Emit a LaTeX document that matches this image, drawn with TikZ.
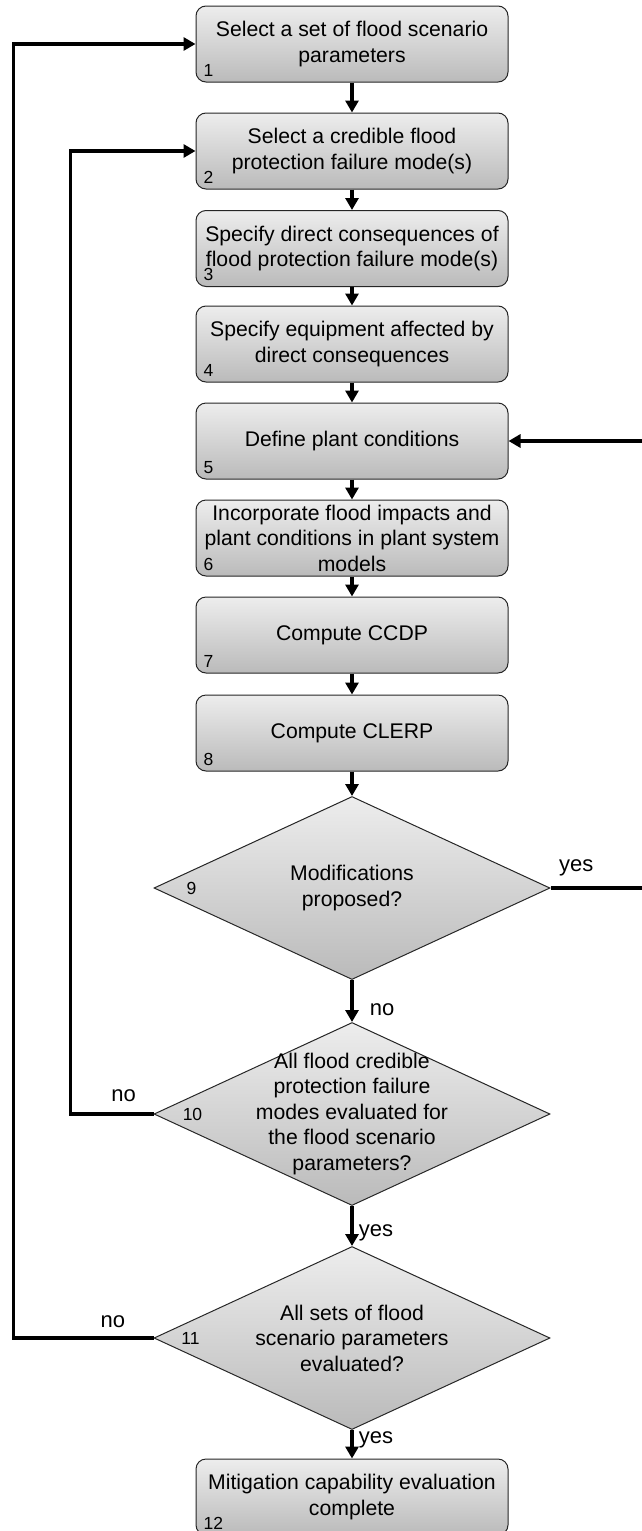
\documentclass[tikz,border=0pt]{standalone}
\usepackage{fontspec}
\setmainfont{Liberation Sans}
\usetikzlibrary{shapes.geometric,arrows.meta,positioning}
\tikzset{
  stepbox/.style={draw=black!85, line width=1pt, rounded corners=10pt, top color=black!7, bottom color=black!27,
    minimum width=312pt, minimum height=76pt, inner xsep=2pt, inner ysep=0pt, align=center,
    font=\fontsize{21.2}{25.5}\selectfont},
  decision/.style={diamond, draw=black!85, line width=1pt, top color=black!7, bottom color=black!27,
    minimum width=396pt, minimum height=183pt, inner sep=0pt},
  dtext/.style={align=center, inner sep=0pt, font=\fontsize{21.2}{25.5}\selectfont},
  num/.style={inner sep=0pt, font=\fontsize{17.5}{18}\selectfont},
  flow/.style={line width=3.6pt, -{Triangle[width=13pt,length=12pt]}},
  lbl/.style={inner sep=0pt, font=\fontsize{22}{24}\selectfont}
}
\begin{document}
\begin{tikzpicture}[x=1pt,y=-1pt]
\useasboundingbox (0,0) rectangle (641,1531);
\foreach \i/\yy/\txt in {1/44/{Select a set of flood scenario\\parameters},
    2/151/{Select a credible flood\\protection failure mode(s)},
    3/248.5/{Specify direct consequences of\\flood protection failure mode(s)},
    4/344/{Specify equipment affected by\\direct consequences},
    5/441/{Define plant conditions},
    6/538/{Incorporate flood impacts and\\plant conditions in plant system\\models},
    7/635/{Compute CCDP},
    8/733/{Compute CLERP},
    12/1497/{Mitigation capability evaluation\\complete}} {
  \node[stepbox] (b\i) at (352,\yy) {\txt};
  \node[num, above right=6pt and 8pt of b\i.south west] (n\i) {\i};
}
\node[decision] (d9) at (352,888) {};
\node[decision] (d10) at (352,1114) {};
\node[decision] (d11) at (352,1338) {};
\node[dtext] (t9) at (d9) {Modifications\\proposed?};
\node[dtext] (t10) at (d10) {All flood credible\\protection failure\\modes evaluated for\\the flood scenario\\parameters?};
\node[dtext] (t11) at (d11) {All sets of flood\\scenario parameters\\evaluated?};
\node[num, xshift=38pt] (n9) at (d9.west) {9};
\node[num, xshift=39pt] (n10) at (d10.west) {10};
\node[num, xshift=37pt] (n11) at (d11.west) {11};
\foreach \i in {1,...,7} {
  \pgfmathtruncatemacro\j{\i+1}
  \draw[flow] (b\i) -- (b\j);
}
\draw[flow] (b8) -- (d9);
\draw[flow] (d9) -- node[lbl, right=16pt, pos=0.7] (no9) {no} (d10);
\draw[flow] (d10) -- node[lbl, right=5pt, pos=0.67] (yes10) {yes} (d11);
\draw[flow] (d11) -- node[lbl, right=5pt, pos=0.33] (yes11) {yes} (b12);
\draw[flow] (d9.east) -- node[lbl, above=10pt, pos=0.27] (yes9) {yes} ++(95,0) |- (b5.east);
\draw[flow] (d10.west) -- node[lbl, above=10pt, pos=0.36] (no10) {no} ++(-83,0) |- (b2.west);
\draw[flow] (d11.west) -- node[lbl, above=9pt, pos=0.29] (no11) {no} ++(-140,0) |- (b1.west);
\end{tikzpicture}
\end{document}
